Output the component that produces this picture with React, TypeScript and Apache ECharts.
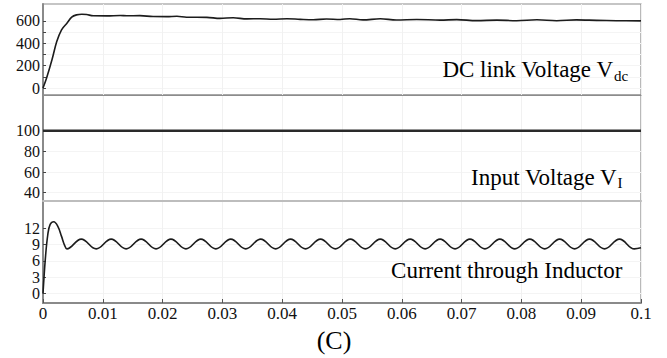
import React, { useEffect, useRef } from "react";
import * as echarts from "echarts";

// ---- data ----
const xTickLabels = ["0", "0.01", "0.02", "0.03", "0.04", "0.05", "0.06", "0.07", "0.08", "0.09", "0.1"];

const dcTime = [0, 0.0006, 0.0015, 0.0023, 0.0031, 0.004, 0.0048, 0.0056, 0.0065, 0.0073, 0.0084, 0.0107, 0.0129, 0.014, 0.0162, 0.0184, 0.0207, 0.0224, 0.024, 0.0274, 0.0296, 0.0318, 0.0341, 0.0363, 0.0385, 0.0408, 0.043, 0.0452, 0.0474, 0.0497, 0.0513, 0.0535, 0.0564, 0.0591, 0.0625, 0.0664, 0.0692, 0.0725, 0.0759, 0.0792, 0.0826, 0.0859, 0.0892, 0.0926, 0.0959, 0.1];
const dcValue = [0, 89, 252, 415, 520, 579, 633, 653, 659, 656, 645, 644, 647, 645, 646, 638, 637, 641, 632, 631, 622, 627, 617, 619, 614, 619, 613, 609, 616, 612, 619, 608, 618, 607, 612, 606, 611, 602, 606, 601, 609, 601, 608, 604, 601, 599];

const vinTime = [0, 0.1];
const vinValue = [100, 100];

const ilTime = [0, 0.0004, 0.0008, 0.0012, 0.0018, 0.0025, 0.0031, 0.0036, 0.004, 0.0064, 0.0089, 0.0114, 0.0139, 0.0164, 0.0189, 0.0214, 0.0239, 0.0264, 0.0289, 0.0314, 0.0339, 0.0364, 0.0389, 0.0414, 0.0439, 0.0464, 0.0489, 0.0514, 0.0539, 0.0564, 0.0589, 0.0614, 0.0639, 0.0664, 0.0689, 0.0714, 0.0739, 0.0764, 0.0789, 0.0814, 0.0839, 0.0864, 0.0889, 0.0914, 0.0939, 0.0964, 0.0989, 0.1];
const ilValue = [0, 6.5, 10.8, 12.7, 13.2, 12.3, 10.5, 8.9, 8.2, 10.0, 8.2, 10.0, 8.2, 10.0, 8.2, 10.0, 8.2, 10.0, 8.2, 10.0, 8.2, 10.0, 8.2, 10.0, 8.2, 10.0, 8.2, 10.0, 8.2, 10.0, 8.2, 10.0, 8.2, 10.0, 8.2, 10.0, 8.2, 10.0, 8.2, 10.0, 8.2, 10.0, 8.2, 10.0, 8.2, 10.0, 8.2, 8.4];

const dcLabelTicks = [0, 200, 400, 600];
const dcMarkTicks = [0, 100, 200, 300, 400, 500, 600];
const vinLabelTicks = [40, 60, 80, 100];
const ilLabelTicks = [0, 3, 6, 9, 12];

const panelLabels = ["DC link Voltage V", "Input Voltage V", "Current through Inductor"];
const panelSubs = ["dc", "I"];
const caption = "(C)";

const FONT = "Liberation Serif";

export default function App() {
  const ref = useRef<HTMLDivElement>(null);
  useEffect(() => {
    if (!ref.current) return;
    const chart = echarts.init(ref.current, null, { renderer: "svg" });
    const gridBase = { left: 43, width: 598, show: true, borderColor: "#8c8c8c", borderWidth: 1.2 };
    const splitX = { show: true, lineStyle: { color: "#f1f1f1", width: 1 } };
    const mkX = (gi: number, lineColor: string, lineWidth: number, showLabels: boolean) => ({
      type: "value",
      gridIndex: gi,
      min: 0,
      max: 0.1,
      interval: 0.01,
      axisLine: { show: true, onZero: false, lineStyle: { color: lineColor, width: lineWidth } },
      axisTick: { show: showLabels, inside: true, length: 4, lineStyle: { color: "#555", width: 1 } },
      axisLabel: {
        show: showLabels,
        margin: 2,
        fontFamily: FONT,
        fontSize: 17,
        lineHeight: 17,
        color: "#111",
        formatter: (v: number) => xTickLabels[Math.round(v / 0.01)] ?? "",
      },
      splitLine: splitX,
    });
    const mkY = (gi: number, min: number, max: number, labels: number[], ticks: number[]) => ({
      type: "value",
      gridIndex: gi,
      min,
      max,
      axisLine: { show: true, lineStyle: { color: "#8a8a8a", width: 2 } },
      axisTick: { show: true, inside: true, length: 3, customValues: ticks, lineStyle: { color: "#444", width: 1 } },
      axisLabel: {
        show: true,
        customValues: labels,
        showMinLabel: true,
        showMaxLabel: true,
        hideOverlap: false,
        margin: 3,
        fontFamily: FONT,
        fontSize: 16,
        lineHeight: 14,
        color: "#111",
      },
      splitLine: { show: true, lineStyle: { color: "#f4f4f4", width: 1 } },
    });

    chart.setOption({
      animation: false,
      backgroundColor: "#fff",
      textStyle: { fontFamily: FONT },
      grid: [
        { ...gridBase, top: 4, height: 91 },
        { ...gridBase, top: 95, height: 106 },
        { ...gridBase, top: 201, height: 102 },
      ],
      xAxis: [mkX(0, "#8c8c8c", 1.2, false), mkX(1, "#bdbdbd", 2.2, false), mkX(2, "#8a8a8a", 2, true)],
      yAxis: [
        mkY(0, -62, 750, dcLabelTicks, dcMarkTicks),
        mkY(1, 32, 134.5, vinLabelTicks, vinLabelTicks),
        mkY(2, -1.74, 17, ilLabelTicks, ilLabelTicks),
      ],
      series: [
        {
          type: "line",
          xAxisIndex: 0,
          yAxisIndex: 0,
          data: dcTime.map((t, i) => [t, dcValue[i]]),
          showSymbol: false,
          smooth: 0.35,
          lineStyle: { color: "#1c1c1c", width: 1.6 },
        },
        {
          type: "line",
          xAxisIndex: 1,
          yAxisIndex: 1,
          data: vinTime.map((t, i) => [t, vinValue[i]]),
          showSymbol: false,
          lineStyle: { color: "#2a2a2a", width: 2.6 },
        },
        {
          type: "line",
          xAxisIndex: 2,
          yAxisIndex: 2,
          data: ilTime.map((t, i) => [t, ilValue[i]]),
          showSymbol: false,
          smooth: 0.4,
          lineStyle: { color: "#1c1c1c", width: 1.6 },
        },
      ],
      graphic: [
        { type: "text", z: 100, x: 613, y: 69.5, style: { text: panelLabels[0], fontFamily: FONT, fontSize: 23, fill: "#000", textAlign: "right", textVerticalAlign: "middle" } },
        { type: "text", z: 100, x: 614, y: 75.6, style: { text: panelSubs[0], fontFamily: FONT, fontSize: 15, fill: "#000", textAlign: "left", textVerticalAlign: "middle" } },
        { type: "text", z: 100, x: 616.7, y: 177.2, style: { text: panelLabels[1], fontFamily: FONT, fontSize: 23, fill: "#000", textAlign: "right", textVerticalAlign: "middle" } },
        { type: "text", z: 100, x: 617.5, y: 183, style: { text: panelSubs[1], fontFamily: FONT, fontSize: 15, fill: "#000", textAlign: "left", textVerticalAlign: "middle" } },
        { type: "text", z: 100, x: 622.3, y: 270.5, style: { text: panelLabels[2], fontFamily: FONT, fontSize: 23, fill: "#000", textAlign: "right", textVerticalAlign: "middle" } },
        { type: "text", z: 100, x: 334, y: 340.5, style: { text: caption, fontFamily: FONT, fontSize: 26, fill: "#000", textAlign: "center", textVerticalAlign: "middle" } },
      ],
    });
    return () => chart.dispose();
  }, []);
  return (
    <div
      ref={ref}
      style={{ position: "fixed", left: 0, top: 0, width: 667, height: 358, background: "#fff" }}
    />
  );
}
